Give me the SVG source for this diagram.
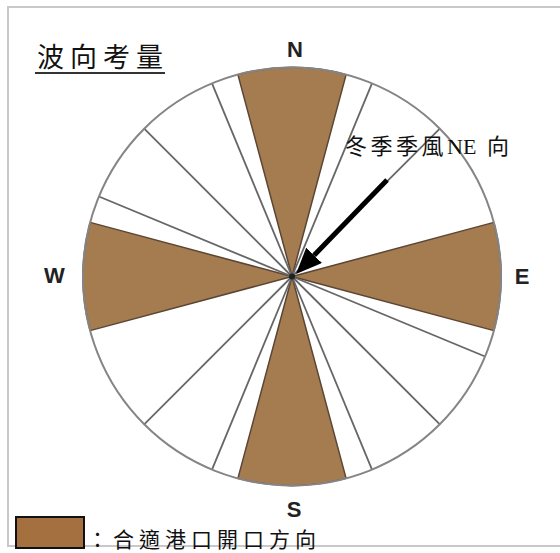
<svg xmlns="http://www.w3.org/2000/svg" width="560" height="553" viewBox="0 0 560 553">
<style>
.frame{fill:none;stroke:#c8c8c8;stroke-width:2}
.brown{fill:#a57b50;stroke:#5a4634;stroke-width:1.5;stroke-linejoin:round}
.ray{stroke:#666;stroke-width:1.8;fill:none}
.rim{fill:none;stroke:#858585;stroke-width:2}
.dir{font-family:"Liberation Sans",Arial,sans-serif;font-weight:bold;font-size:22px;fill:#222;text-anchor:middle}
.cjk{font-family:"Liberation Serif","Noto Sans CJK TC",serif;fill:#111}
</style>
<defs>
<marker id="ah" viewBox="0 0 26 22" refX="0" refY="11" markerWidth="26" markerHeight="22" markerUnits="userSpaceOnUse" orient="auto">
<path d="M0,0 L26,11 L0,22 Z" fill="#000"/>
</marker>
</defs>
<rect class="frame" x="8" y="7" width="560" height="539"/>
<g id="title">
<text class="cjk" x="37" y="67" font-size="27" letter-spacing="6">波向考量</text>
<line x1="35" y1="73" x2="165" y2="73" stroke="#333" stroke-width="2"/>
</g>
<g id="rose">
<circle cx="292" cy="276.5" r="209" fill="#fff"/>
<g id="sector-N"><path class="brown" d="M292,276.5 L237.9,74.6 A209,209 0 0 1 346.1,74.6 Z"/></g>
<g id="sector-E"><path class="brown" d="M292,276.5 L493.9,222.4 A209,209 0 0 1 493.9,330.6 Z"/></g>
<g id="sector-S"><path class="brown" d="M292,276.5 L346.1,478.4 A209,209 0 0 1 237.9,478.4 Z"/></g>
<g id="sector-W"><path class="brown" d="M292,276.5 L90.1,330.6 A209,209 0 0 1 90.1,222.4 Z"/></g>
<g id="rays">
<line class="ray" x1="292" y1="276.5" x2="372" y2="83.4"/>
<line class="ray" x1="292" y1="276.5" x2="439.8" y2="128.7"/>
<line class="ray" x1="292" y1="276.5" x2="485.1" y2="356.5"/>
<line class="ray" x1="292" y1="276.5" x2="439.8" y2="424.3"/>
<line class="ray" x1="292" y1="276.5" x2="372" y2="469.6"/>
<line class="ray" x1="292" y1="276.5" x2="212" y2="469.6"/>
<line class="ray" x1="292" y1="276.5" x2="144.2" y2="424.3"/>
<line class="ray" x1="292" y1="276.5" x2="98.9" y2="196.5"/>
<line class="ray" x1="292" y1="276.5" x2="144.2" y2="128.7"/>
<line class="ray" x1="292" y1="276.5" x2="212" y2="83.4"/>
</g>
<circle class="rim" cx="292" cy="276.5" r="209"/>
<circle cx="292" cy="276.5" r="3" fill="#222"/>
</g>
<g id="labels">
<text class="dir" x="295" y="57">N</text>
<text class="dir" x="522" y="283.5">E</text>
<text class="dir" x="294" y="517">S</text>
<text class="dir" x="54.5" y="283">W</text>
</g>
<g id="connectors">
<line x1="387" y1="180" x2="314.1" y2="255.3" stroke="#000" stroke-width="5" marker-end="url(#ah)"/>
</g>
<g id="wind-label">
<text class="cjk" y="154" font-size="22"><tspan x="345" letter-spacing="3.5">冬季季風</tspan><tspan x="447">NE</tspan><tspan x="487">向</tspan></text>
</g>
<g id="legend">
<rect x="16" y="517" width="68" height="31" fill="#a4703f" stroke="#111" stroke-width="2"/>
<text class="cjk" x="87" y="547" font-size="21" letter-spacing="5">：合適港口開口方向</text>
</g>
</svg>
